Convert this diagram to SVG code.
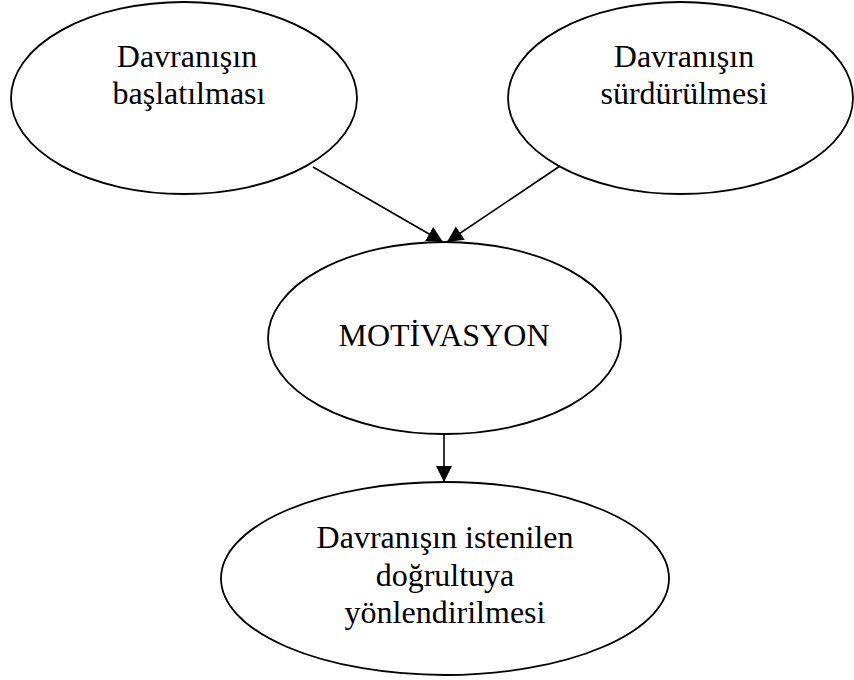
<svg xmlns="http://www.w3.org/2000/svg" width="854" height="680" viewBox="0 0 854 680">
<style>
.node ellipse{fill:#fff;stroke:#000;stroke-width:1.8}
.node text{font-family:"Liberation Serif","Times New Roman",serif;font-size:32px;fill:#000;text-anchor:middle}
.edge{stroke:#000;stroke-width:1.6;fill:none;marker-end:url(#ah)}
</style>
<defs>
<marker id="ah" markerUnits="userSpaceOnUse" markerWidth="17" markerHeight="17" viewBox="0 0 17 17" refX="16" refY="8.5" orient="auto">
<path d="M0,0.5 L16,8.5 L0,16.5 z" fill="#000"/>
</marker>
</defs>
<rect width="854" height="680" fill="#fff"/>
<g id="n1" class="node">
<ellipse cx="184" cy="98" rx="173" ry="96"/>
<text x="187" y="67">Davranışın</text>
<text x="189" y="104">başlatılması</text>
</g>
<g id="n2" class="node">
<ellipse cx="680.5" cy="98" rx="172.5" ry="96"/>
<text x="684" y="67">Davranışın</text>
<text x="684" y="104">sürdürülmesi</text>
</g>
<g id="n3" class="node">
<ellipse cx="444.5" cy="338" rx="176.5" ry="96"/>
<text x="444" y="346">MOTİVASYON</text>
</g>
<g id="n4" class="node">
<ellipse cx="445" cy="578.5" rx="224" ry="96.5"/>
<text x="445" y="548">Davranışın istenilen</text>
<text x="445" y="586">doğrultuya</text>
<text x="445" y="623">yönlendirilmesi</text>
</g>
<g id="edges">
<line class="edge" x1="313" y1="167" x2="443" y2="242"/>
<line class="edge" x1="560" y1="166" x2="447" y2="242"/>
<line class="edge" x1="444" y1="434" x2="444" y2="482"/>
</g>
</svg>
